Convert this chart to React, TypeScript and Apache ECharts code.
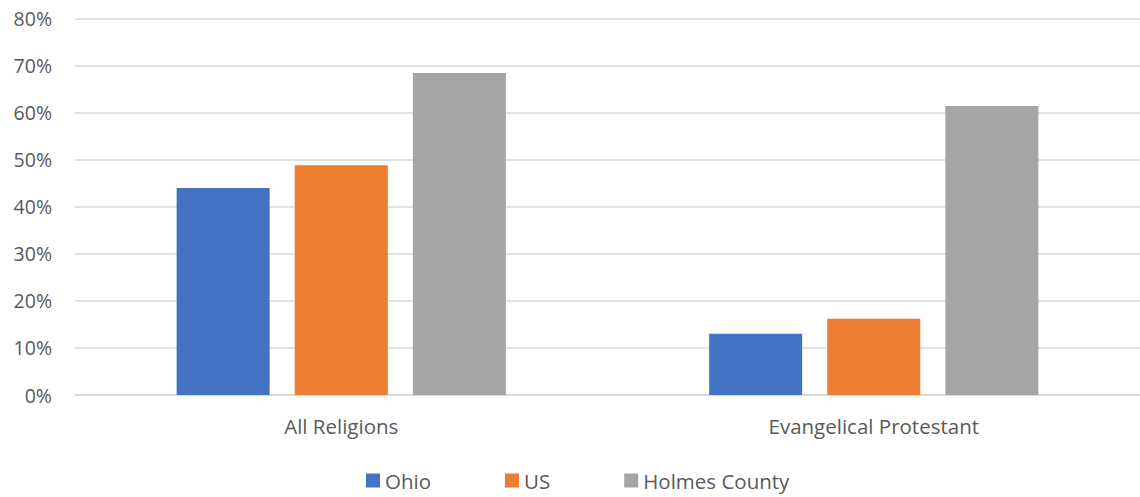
import React, { useEffect, useRef } from "react";
import * as echarts from "echarts";

const categories = ["All Religions", "Evangelical Protestant"];
const ohio = [44.0, 13.0];
const us = [48.8, 16.2];
const holmes = [68.4, 61.4];
const yTicks = [0, 10, 20, 30, 40, 50, 60, 70, 80];

const FONT = "'Open Sans', 'Noto Sans', sans-serif";
const TXT = "#595959";

export default function App() {
  const ref = useRef<HTMLDivElement>(null);
  useEffect(() => {
    if (!ref.current) return;
    const chart = echarts.init(ref.current, undefined, { renderer: "svg" });
    chart.setOption({
      animation: false,
      textStyle: { fontFamily: FONT },
      grid: { left: 75, right: -6, top: 18.5, bottom: 102, containLabel: false },
      legend: {
        bottom: 1,
        left: 361,
        itemWidth: 14,
        itemHeight: 14,
        itemGap: 74,
        icon: "rect",
        textStyle: { fontSize: 20.5, color: TXT, fontFamily: FONT },
        data: ["Ohio", "US", "Holmes County"],
      },
      xAxis: {
        type: "category",
        data: categories,
        axisTick: { show: false },
        axisLine: { lineStyle: { color: "#d9d9d9", width: 1.5 } },
        axisLabel: { fontSize: 20.5, color: TXT, margin: 20, fontFamily: FONT },
      },
      yAxis: {
        type: "value",
        min: yTicks[0],
        max: yTicks[yTicks.length - 1],
        interval: 10,
        axisLabel: { formatter: "{value}%", fontSize: 19.5, color: TXT, margin: 23, fontFamily: FONT },
        splitLine: { lineStyle: { color: "#d9d9d9", width: 1.5 } },
        axisLine: { show: false },
        axisTick: { show: false },
      },
      series: [
        { name: "Ohio", type: "bar", data: ohio, barWidth: 93, barGap: "27%", itemStyle: { color: "#4472c4" } },
        { name: "US", type: "bar", data: us, barWidth: 93, barGap: "27%", itemStyle: { color: "#ed7d31" } },
        { name: "Holmes County", type: "bar", data: holmes, barWidth: 93, barGap: "27%", itemStyle: { color: "#a5a5a5" } },
      ],
    });
    return () => chart.dispose();
  }, []);
  return <div ref={ref} style={{ position: "absolute", left: 0, top: 0, width: 1140, height: 497 }} />;
}
